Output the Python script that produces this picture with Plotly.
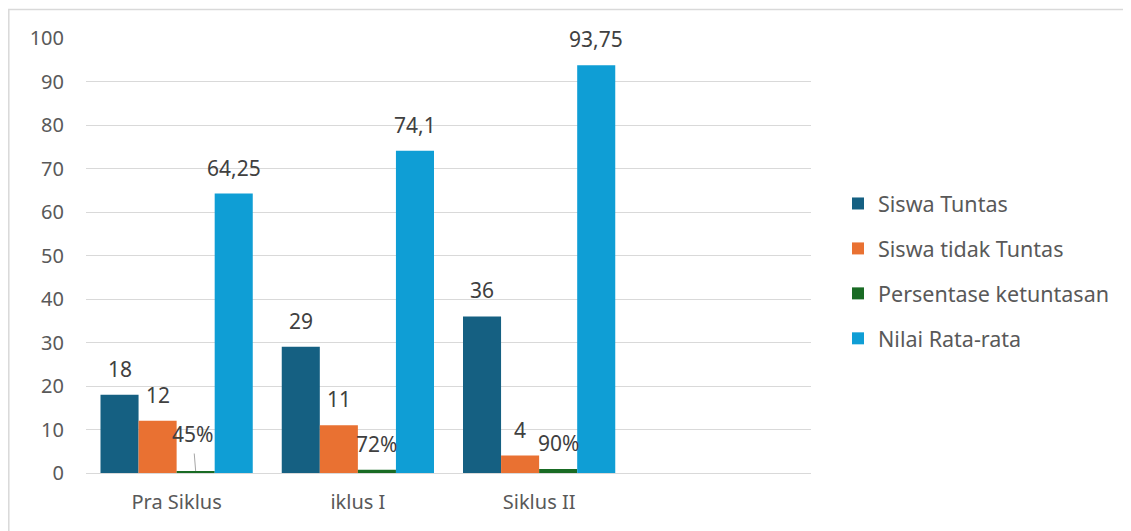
import plotly.graph_objects as go

categories = ["Pra Siklus", "iklus I", "Siklus II"]
series_names = ["Siswa Tuntas", "Siswa tidak Tuntas", "Persentase ketuntasan", "Nilai Rata-rata"]
siswa_tuntas = [18, 29, 36]
siswa_tidak_tuntas = [12, 11, 4]
persentase = [0.45, 0.72, 0.90]
nilai_rata = [64.25, 74.1, 93.75]
label_tuntas = ["18", "29", "36"]
label_tidak = ["12", "11", "4"]
label_persen = ["45%", "72%", "90%"]
label_nilai = ["64,25", "74,1", "93,75"]
y_ticks = [0, 10, 20, 30, 40, 50, 60, 70, 80, 90, 100]

colors = ["#156082", "#E97132", "#196B24", "#0F9ED5"]
series = [siswa_tuntas, siswa_tidak_tuntas, persentase, nilai_rata]
labels = [label_tuntas, label_tidak, label_persen, label_nilai]

FONT = "Noto Sans"
TXT = "#595959"
W, H = 1131, 531
OFF = 8  # page body margin
L = 86 - OFF
R = W - (811 - OFF)
T = 38 - OFF
B = H - (473 - OFF)
PW = W - L - R
PH = H - T - B
bargap = 0.16

fig = go.Figure()
for k, (name, vals, col) in enumerate(zip(series_names, series, colors)):
    fig.add_trace(go.Bar(
        x=categories, y=vals, name=name, marker=dict(color=col, line=dict(width=0)),
        legendgroup=name, hoverinfo="x+y+name",
    ))

annotations = []
gw = 1 - bargap
bw = gw / 4
for k, (vals, labs) in enumerate(zip(series, labels)):
    for i, (v, t) in enumerate(zip(vals, labs)):
        xc = i - gw / 2 + (k + 0.5) * bw
        if k == 2 and i == 0:
            annotations.append(dict(
                x=xc, y=v, xref="x", yref="y", text=t, showarrow=True,
                ax=-3, ay=-37, arrowhead=0, arrowwidth=1, arrowcolor="#A6A6A6",
                startstandoff=4, font=dict(family=FONT, size=21, color="#404040"),
            ))
        else:
            annotations.append(dict(
                x=xc, y=v, xref="x", yref="y", text=t, showarrow=False,
                yanchor="middle", yshift=26, font=dict(family=FONT, size=21, color="#404040"),
            ))

def px_to_paper_x(px):
    return (px - OFF - L) / PW

def px_to_paper_y(py):
    return (H - B - (py - OFF)) / PH

shapes = [dict(
    type="rect", xref="paper", yref="paper",
    x0=px_to_paper_x(8.8), x1=px_to_paper_x(1150),
    y0=px_to_paper_y(560), y1=px_to_paper_y(9.5),
    line=dict(color="#D9D9D9", width=1.5), fillcolor="rgba(0,0,0,0)", layer="below",
)]

fig.update_layout(
    width=W, height=H, autosize=False,
    margin=dict(l=L, r=R, t=T, b=B, pad=0),
    paper_bgcolor="white", plot_bgcolor="white",
    barmode="group", bargap=bargap, bargroupgap=0,
    font=dict(family=FONT, size=20, color=TXT),
    showlegend=True,
    legend=dict(
        x=px_to_paper_x(838), y=px_to_paper_y(271), xanchor="left", yanchor="middle",
        font=dict(family=FONT, size=21.5, color=TXT), tracegroupgap=14,
        itemwidth=30, bgcolor="rgba(0,0,0,0)",
    ),
    annotations=annotations,
    shapes=shapes,
    xaxis=dict(
        type="category", range=[-0.5, 3.5], showgrid=False, zeroline=False,
        showline=False, ticks="", ticklabelstandoff=15,
        tickfont=dict(family=FONT, size=20, color=TXT),
    ),
    yaxis=dict(
        range=[0, 100], tickvals=y_ticks, showgrid=True, gridcolor="#D9D9D9", gridwidth=1.3,
        zeroline=True, zerolinecolor="#D9D9D9", zerolinewidth=1.3, showline=False, ticks="",
        ticklabelstandoff=21, tickfont=dict(family=FONT, size=20, color=TXT),
    ),
)

fig.write_html("out.html")
